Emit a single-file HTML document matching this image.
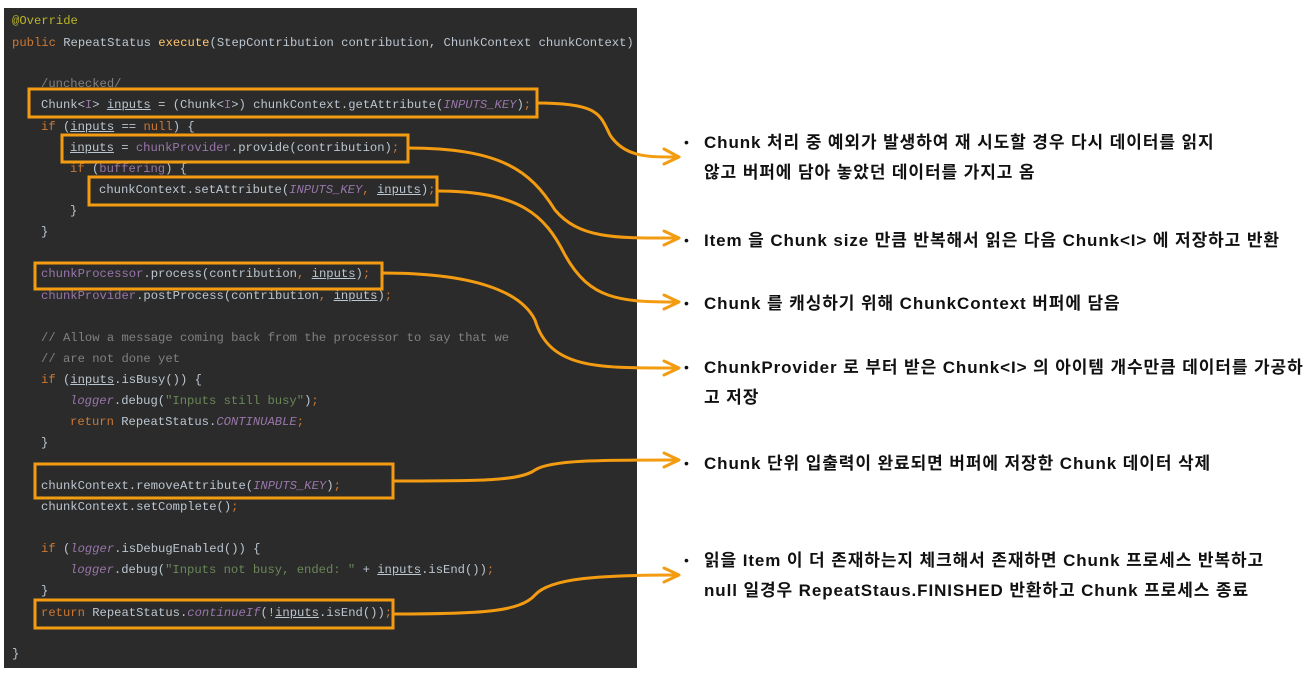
<!DOCTYPE html>
<html><head><meta charset="utf-8"><style>
body{margin:0;width:1313px;height:676px;background:#fff;position:relative;overflow:hidden}
#code{position:absolute;left:4px;top:8px;width:633px;height:660px;background:#2b2b2b}
.l{position:absolute;font-family:"Liberation Mono",monospace;font-size:12.2px;color:#bcc6d0;white-space:pre;line-height:14px}
.k{color:#cc7832}.p{color:#9876aa}.pi{color:#9876aa;font-style:italic}.c{color:#808080}.s{color:#6a8759}.m{color:#ffc66d}.a{color:#bbb529}.u{text-decoration:underline}
.t{position:absolute;left:704px;font-family:"Liberation Sans","Noto Sans CJK KR",sans-serif;font-weight:bold;font-size:17px;letter-spacing:0.9px;color:#111;white-space:nowrap;line-height:20px}
.b{position:absolute;left:684px;font-family:"Liberation Sans",sans-serif;font-size:14px;color:#111}
</style></head><body>
<div id="code"></div>
<div class="l a" style="left:12px;top:14px">@Override</div>
<div class="l" style="left:12px;top:36px"><span class="k">public</span> RepeatStatus <span class="m">execute</span>(StepContribution contribution, ChunkContext chunkContext)</div>
<div class="l c" style="left:41px;top:77px">/unchecked/</div>
<div class="l" style="left:41px;top:98px">Chunk&lt;<span class="p">I</span>&gt; <span class="u">inputs</span> = (Chunk&lt;<span class="p">I</span>&gt;) chunkContext.getAttribute(<span class="pi">INPUTS_KEY</span>)<span class="k">;</span></div>
<div class="l" style="left:41px;top:120px"><span class="k">if</span> (<span class="u">inputs</span> == <span class="k">null</span>) {</div>
<div class="l" style="left:70px;top:141px"><span class="u">inputs</span> = <span class="p">chunkProvider</span>.provide(contribution)<span class="k">;</span></div>
<div class="l" style="left:70px;top:162px"><span class="k">if</span> (<span class="p">buffering</span>) {</div>
<div class="l" style="left:99px;top:183px">chunkContext.setAttribute(<span class="pi">INPUTS_KEY</span><span class="k">,</span> <span class="u">inputs</span>)<span class="k">;</span></div>
<div class="l" style="left:70px;top:204px">}</div>
<div class="l" style="left:41px;top:225px">}</div>
<div class="l" style="left:41px;top:267px"><span class="p">chunkProcessor</span>.process(contribution<span class="k">,</span> <span class="u">inputs</span>)<span class="k">;</span></div>
<div class="l" style="left:41px;top:289px"><span class="p">chunkProvider</span>.postProcess(contribution<span class="k">,</span> <span class="u">inputs</span>)<span class="k">;</span></div>
<div class="l c" style="left:41px;top:331px">// Allow a message coming back from the processor to say that we</div>
<div class="l c" style="left:41px;top:352px">// are not done yet</div>
<div class="l" style="left:41px;top:373px"><span class="k">if</span> (<span class="u">inputs</span>.isBusy()) {</div>
<div class="l" style="left:70px;top:394px"><span class="pi">logger</span>.debug(<span class="s">"Inputs still busy"</span>)<span class="k">;</span></div>
<div class="l" style="left:70px;top:415px"><span class="k">return</span> RepeatStatus.<span class="pi">CONTINUABLE</span><span class="k">;</span></div>
<div class="l" style="left:41px;top:436px">}</div>
<div class="l" style="left:41px;top:479px">chunkContext.removeAttribute(<span class="pi">INPUTS_KEY</span>)<span class="k">;</span></div>
<div class="l" style="left:41px;top:500px">chunkContext.setComplete()<span class="k">;</span></div>
<div class="l" style="left:41px;top:542px"><span class="k">if</span> (<span class="pi">logger</span>.isDebugEnabled()) {</div>
<div class="l" style="left:70px;top:563px"><span class="pi">logger</span>.debug(<span class="s">"Inputs not busy, ended: "</span> + <span class="u">inputs</span>.isEnd())<span class="k">;</span></div>
<div class="l" style="left:41px;top:584px">}</div>
<div class="l" style="left:41px;top:606px"><span class="k">return</span> RepeatStatus.<span class="pi">continueIf</span>(!<span class="u">inputs</span>.isEnd())<span class="k">;</span></div>
<div class="l" style="left:12px;top:647px">}</div>

<svg width="1313" height="676" style="position:absolute;left:0;top:0" fill="none" stroke="#f39c12" stroke-width="3">
<rect x="29" y="89" width="508" height="28"/>
<rect x="62" y="135" width="346" height="27"/>
<rect x="89" y="177" width="348" height="28"/>
<rect x="35" y="263" width="347" height="26"/>
<rect x="35" y="464" width="358" height="34"/>
<rect x="35" y="600" width="358" height="28"/>
<path d="M537 103 C600 103 600 115 610 135 C625 158 650 157 678 157"/>
<path d="M407 148 C500 148 530 170 555 210 C580 240 620 238 678 238"/>
<path d="M437 191 C520 191 545 215 565 255 C590 300 620 302 678 302"/>
<path d="M382 273 C470 273 520 290 535 320 C550 370 600 368 678 368"/>
<path d="M393 481 C480 481 520 481 535 470 C550 460 600 460 678 460"/>
<path d="M393 614 C480 614 520 612 535 595 C550 578 600 575 678 575"/>
<g stroke-linecap="round" stroke-linejoin="round">
<path d="M664 149 L679 157 L664 164"/>
<path d="M664 231 L679 238 L664 245"/>
<path d="M664 295 L679 302 L664 309"/>
<path d="M664 361 L679 368 L664 375"/>
<path d="M664 453 L679 460 L664 467"/>
<path d="M664 568 L679 575 L664 582"/>
</g>
</svg>

<div class="b" style="top:134px">•</div>
<div class="t" style="top:133px">Chunk 처리 중 예외가 발생하여 재 시도할 경우 다시 데이터를 읽지</div>
<div class="t" style="top:163px">않고 버퍼에 담아 놓았던 데이터를 가지고 옴</div>
<div class="b" style="top:232px">•</div>
<div class="t" style="top:231px">Item 을 Chunk size 만큼 반복해서 읽은 다음 Chunk&lt;I&gt; 에 저장하고 반환</div>
<div class="b" style="top:295px">•</div>
<div class="t" style="top:294px">Chunk 를 캐싱하기 위해 ChunkContext 버퍼에 담음</div>
<div class="b" style="top:359px">•</div>
<div class="t" style="top:358px">ChunkProvider 로 부터 받은 Chunk&lt;I&gt; 의 아이템 개수만큼 데이터를 가공하</div>
<div class="t" style="top:388px">고 저장</div>
<div class="b" style="top:455px">•</div>
<div class="t" style="top:454px">Chunk 단위 입출력이 완료되면 버퍼에 저장한 Chunk 데이터 삭제</div>
<div class="b" style="top:552px">•</div>
<div class="t" style="top:551px">읽을 Item 이 더 존재하는지 체크해서 존재하면 Chunk 프로세스 반복하고</div>
<div class="t" style="top:581px">null 일경우 RepeatStaus.FINISHED 반환하고 Chunk 프로세스 종료</div>
</body></html>
